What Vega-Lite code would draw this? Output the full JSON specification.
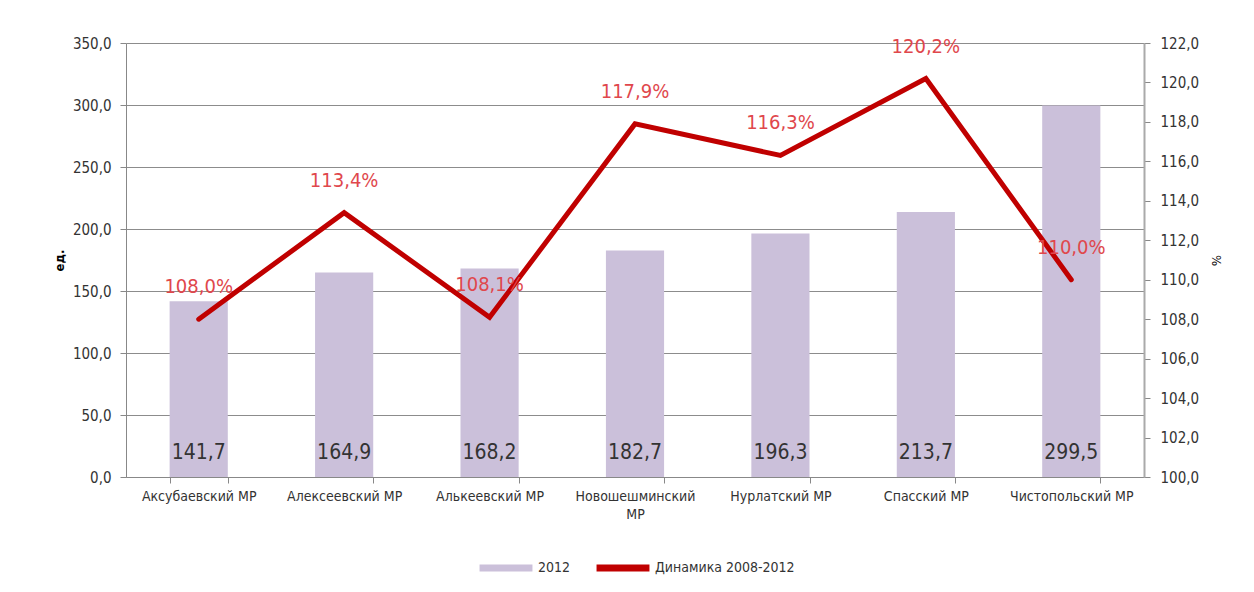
{
  "$schema": "https://vega.github.io/schema/vega-lite/v6.json",
  "autosize": {"type": "none"},
  "width": 1018,
  "height": 434,
  "padding": {"left": 126, "top": 43, "right": 110, "bottom": 115},
  "background": "white",
  "config": {
    "locale": {"number": {"decimal": ",", "thousands": "\u00a0", "grouping": [3], "currency": ["", "%"]}},
    "font": "DejaVu Sans Condensed",
    "view": {"stroke": null},
    "axis": {"labelFont": "DejaVu Sans Condensed", "titleFont": "DejaVu Sans Condensed", "labelColor": "#333333", "labelFontSize": 15, "domainColor": "#888888", "tickColor": "#888888", "gridColor": "#8c8c8c"}
  },
  "data": {"values": [
    {"region": "Аксубаевский МР", "value": 141.7, "pct": 108.0},
    {"region": "Алексеевский МР", "value": 164.9, "pct": 113.4},
    {"region": "Алькеевский МР", "value": 168.2, "pct": 108.1},
    {"region": "Новошешминский МР", "value": 182.7, "pct": 117.9},
    {"region": "Нурлатский МР", "value": 196.3, "pct": 116.3},
    {"region": "Спасский МР", "value": 213.7, "pct": 120.2},
    {"region": "Чистопольский МР", "value": 299.5, "pct": 110.0}
  ]},
  "encoding": {
    "x": {"field": "region", "type": "nominal", "sort": null, "scale": {"paddingInner": 0.6, "paddingOuter": 0.3},
      "axis": {"title": null, "labelAngle": 0, "labelPadding": 6, "tickBand": "extent", "tickSize": 6, "labelLineHeight": 18, "labelFontSize": 14,
        "labelExpr": "datum.label == 'Новошешминский МР' ? ['Новошешминский', 'МР'] : datum.label", "labelBaseline": "top"}}
  },
  "layer": [
    {
      "encoding": {
        "y": {"field": "value", "type": "quantitative", "scale": {"domain": [0, 350]},
          "axis": {"title": "ед.", "titleFontWeight": "bold", "titleFontSize": 13, "titleColor": "#000000", "titlePadding": 6, "values": [0, 50, 100, 150, 200, 250, 300, 350], "format": ".1f", "tickSize": 6, "labelPadding": 9, "grid": true, "gridWidth": 1}}
      },
      "layer": [
        {
          "mark": {"type": "bar", "color": "#CBC0DA"},
          "encoding": {
            "color": {"datum": "2012", "type": "nominal",
              "scale": {"domain": ["2012", "Динамика 2008-2012"], "range": ["#CBC0DA", "#C00000"]},
              "legend": {"title": null, "orient": "none", "legendX": 350, "legendY": 495, "direction": "horizontal", "symbolType": "stroke", "symbolSize": 2800, "symbolStrokeWidth": 7, "labelFontSize": 14, "labelColor": "#333333", "labelFont": "DejaVu Sans Condensed", "columnPadding": 11, "labelOffset": 2}
            }
          }
        },
        {
          "mark": {"type": "text", "baseline": "bottom", "dy": -14, "fontSize": 21, "color": "#333333", "font": "DejaVu Sans Condensed"},
          "encoding": {
            "y": {"datum": 0, "type": "quantitative"},
            "text": {"field": "value", "type": "quantitative", "format": ".1f"}
          }
        }
      ]
    },
    {
      "encoding": {
        "y": {"field": "pct", "type": "quantitative", "scale": {"domain": [100, 122]},
          "axis": {"orient": "right", "title": "%", "titleFontSize": 13, "titleColor": "#000000", "titleFontWeight": "normal", "titlePadding": 10, "values": [100, 102, 104, 106, 108, 110, 112, 114, 116, 118, 120, 122], "format": ".1f", "tickSize": 6, "labelPadding": 10, "labelOverlap": false, "grid": false, "domainWidth": 2, "domainColor": "#aaaaaa"}}
      },
      "layer": [
        {
          "mark": {"type": "line", "strokeWidth": 5, "color": "#C00000", "strokeJoin": "miter", "strokeCap": "round"},
          "encoding": {
            "color": {"datum": "Динамика 2008-2012", "type": "nominal"}
          }
        },
        {
          "mark": {"type": "text", "baseline": "bottom", "dy": -22, "fontSize": 20, "color": "#E0474C", "font": "DejaVu Sans Condensed"},
          "encoding": {
            "text": {"field": "pct", "type": "quantitative", "format": "$.1f"}
          }
        }
      ]
    }
  ],
  "resolve": {"scale": {"y": "independent"}}
}
